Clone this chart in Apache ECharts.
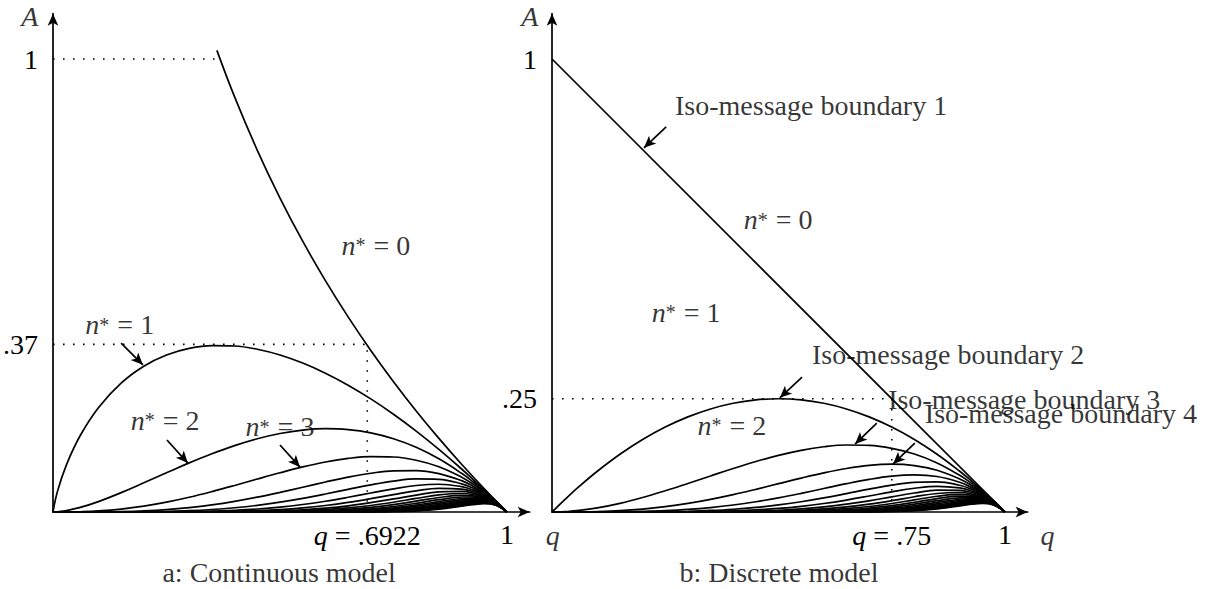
<!DOCTYPE html>
<html><head><meta charset="utf-8">
<script src="https://cdn.jsdelivr.net/npm/echarts@6/dist/echarts.min.js"></script>
<style>html,body{margin:0;padding:0;background:#fff}#c{width:1218px;height:589px}</style>
</head><body><div id="c"></div>
<script>
// shared q sample positions
const Q = [0, .01, .03, .06, .1, .15, .2, .25, .3, .35, .4, .45, .5, .55, .6, .65, .7, .75, .8, .85, .9, .925, .95, .975, 1];

// (a) Continuous model: boundary n*=0
const C0_Q = [.361, .4, .45, .5, .55, .6, .65, .7, .75, .8, .85, .9, .95, 1];
const C0_A = [1.019, .9163, .7985, .6931, .5978, .5108, .4308, .3567, .2877, .2231, .1625, .1054, .0513, 0];
// curves n = 1..20
const C1 = [0, .0461, .1052, .1688, .2303, .2846, .3219, .3466, .3612, .3674, .3665, .3593, .3466, .3288, .3065, .2800, .2497, .2158, .1785, .1381, .0949, .0721, .0487, .0247, 0];
const C2 = [0, .0005, .0032, .0101, .0230, .0427, .0644, .0866, .1084, .1286, .1466, .1617, .1733, .1808, .1839, .1820, .1748, .1618, .1428, .1174, .0854, .0667, .0463, .0241, 0];
const C3 = [0, 0, .0001, .0006, .0023, .0064, .0129, .0217, .0325, .0450, .0586, .0728, .0866, .0995, .1103, .1183, .1223, .1214, .1142, .0998, .0768, .0617, .0440, .0235, 0];
const C4 = [0, 0, 0, 0, .0002, .0010, .0026, .0054, .0098, .0158, .0235, .0327, .0433, .0547, .0662, .0769, .0856, .0910, .0914, .0848, .0692, .0571, .0418, .0229, 0];
const C5 = [0, 0, 0, 0, 0, .0001, .0005, .0014, .0029, .0055, .0094, .0147, .0217, .0301, .0397, .0500, .0600, .0683, .0731, .0721, .0622, .0528, .0397, .0223, 0];
const C6 = [0, 0, 0, 0, 0, 0, .0001, .0003, .0009, .0019, .0038, .0066, .0108, .0166, .0238, .0325, .0420, .0512, .0585, .0613, .0560, .0488, .0377, .0218, 0];
const C7 = [0, 0, 0, 0, 0, 0, 0, .0001, .0003, .0007, .0015, .0030, .0054, .0091, .0143, .0211, .0294, .0384, .0468, .0521, .0504, .0452, .0358, .0212, 0];
const C8 = [0, 0, 0, 0, 0, 0, 0, 0, .0001, .0002, .0006, .0013, .0027, .0050, .0086, .0137, .0206, .0288, .0374, .0443, .0454, .0418, .0340, .0207, 0];
const C9 = [0, 0, 0, 0, 0, 0, 0, 0, 0, .0001, .0002, .0006, .0014, .0028, .0052, .0089, .0144, .0216, .0300, .0376, .0408, .0387, .0323, .0202, 0];
const C10 = [0, 0, 0, 0, 0, 0, 0, 0, 0, 0, .0001, .0003, .0007, .0015, .0031, .0058, .0101, .0162, .0240, .0320, .0368, .0358, .0307, .0197, 0];
const C11 = [0, 0, 0, 0, 0, 0, 0, 0, 0, 0, 0, .0001, .0003, .0008, .0019, .0038, .0071, .0122, .0192, .0272, .0331, .0331, .0292, .0192, 0];
const C12 = [0, 0, 0, 0, 0, 0, 0, 0, 0, 0, 0, 0, .0002, .0005, .0011, .0025, .0049, .0091, .0153, .0231, .0298, .0306, .0277, .0187, 0];
const C13 = [0, 0, 0, 0, 0, 0, 0, 0, 0, 0, 0, 0, .0001, .0003, .0007, .0016, .0035, .0068, .0123, .0197, .0268, .0283, .0263, .0182, 0];
const C14 = [0, 0, 0, 0, 0, 0, 0, 0, 0, 0, 0, 0, 0, .0001, .0004, .0010, .0024, .0051, .0098, .0167, .0241, .0262, .0250, .0178, 0];
const C15 = [0, 0, 0, 0, 0, 0, 0, 0, 0, 0, 0, 0, 0, .0001, .0002, .0007, .0017, .0038, .0079, .0142, .0217, .0242, .0238, .0173, 0];
const C16 = [0, 0, 0, 0, 0, 0, 0, 0, 0, 0, 0, 0, 0, 0, .0001, .0004, .0012, .0029, .0063, .0121, .0195, .0224, .0226, .0169, 0];
const C17 = [0, 0, 0, 0, 0, 0, 0, 0, 0, 0, 0, 0, 0, 0, 0, .0003, .0008, .0022, .0050, .0103, .0176, .0207, .0214, .0165, 0];
const C18 = [0, 0, 0, 0, 0, 0, 0, 0, 0, 0, 0, 0, 0, 0, 0, .0002, .0006, .0016, .0040, .0087, .0158, .0192, .0204, .0161, 0];
const C19 = [0, 0, 0, 0, 0, 0, 0, 0, 0, 0, 0, 0, 0, 0, 0, .0001, .0004, .0012, .0032, .0074, .0142, .0177, .0194, .0157, 0];
const C20 = [0, 0, 0, 0, 0, 0, 0, 0, 0, 0, 0, 0, 0, 0, 0, 0, .0003, .0009, .0026, .0063, .0128, .0164, .0184, .0153, 0];

// (b) Discrete model: iso-message boundary 1 (straight) and curves 2..20
const D1_Q = [0, 1];
const D1_A = [1, 0];
const D2 = [0, .0099, .0291, .0564, .09, .1275, .16, .1875, .21, .2275, .24, .2475, .25, .2475, .24, .2275, .21, .1875, .16, .1275, .09, .0694, .0475, .0244, 0];
const D3 = [0, .0001, .0009, .0034, .009, .0191, .032, .0469, .063, .0796, .096, .1114, .125, .1361, .144, .1479, .147, .1406, .128, .1084, .081, .0642, .0451, .0238, 0];
const D4 = [0, 0, 0, .0002, .0009, .0029, .0064, .0117, .0189, .0279, .0384, .0501, .0625, .0749, .0864, .0961, .1029, .1055, .1024, .0921, .0729, .0594, .0429, .0232, 0];
const D5 = [0, 0, 0, 0, .0001, .0004, .0013, .0029, .0057, .0098, .0154, .0226, .0313, .0412, .0518, .0625, .0720, .0791, .0819, .0783, .0656, .0549, .0407, .0226, 0];
const D6 = [0, 0, 0, 0, 0, .0001, .0003, .0007, .0017, .0034, .0061, .0102, .0156, .0227, .0311, .0406, .0504, .0593, .0655, .0666, .0590, .0508, .0387, .0220, 0];
const D7 = [0, 0, 0, 0, 0, 0, .0001, .0002, .0005, .0012, .0025, .0046, .0078, .0125, .0187, .0264, .0353, .0445, .0524, .0566, .0531, .0470, .0368, .0215, 0];
const D8 = [0, 0, 0, 0, 0, 0, 0, 0, .0002, .0004, .0010, .0021, .0039, .0069, .0112, .0172, .0247, .0334, .0419, .0481, .0478, .0435, .0349, .0209, 0];
const D9 = [0, 0, 0, 0, 0, 0, 0, 0, 0, .0001, .0004, .0009, .0020, .0038, .0067, .0112, .0173, .0250, .0336, .0409, .0430, .0402, .0332, .0204, 0];
const D10 = [0, 0, 0, 0, 0, 0, 0, 0, 0, 0, .0002, .0004, .0010, .0021, .0040, .0073, .0121, .0188, .0268, .0347, .0387, .0372, .0315, .0199, 0];
const D11 = [0, 0, 0, 0, 0, 0, 0, 0, 0, 0, .0001, .0002, .0005, .0011, .0024, .0047, .0085, .0141, .0215, .0295, .0349, .0344, .0299, .0194, 0];
const D12 = [0, 0, 0, 0, 0, 0, 0, 0, 0, 0, 0, .0001, .0002, .0006, .0015, .0031, .0059, .0106, .0172, .0251, .0314, .0318, .0284, .0189, 0];
const D13 = [0, 0, 0, 0, 0, 0, 0, 0, 0, 0, 0, 0, .0001, .0003, .0009, .0020, .0042, .0079, .0137, .0213, .0282, .0294, .0270, .0184, 0];
const D14 = [0, 0, 0, 0, 0, 0, 0, 0, 0, 0, 0, 0, 0, .0002, .0005, .0013, .0029, .0059, .0110, .0181, .0254, .0272, .0257, .0180, 0];
const D15 = [0, 0, 0, 0, 0, 0, 0, 0, 0, 0, 0, 0, 0, .0001, .0003, .0008, .0020, .0045, .0088, .0154, .0229, .0252, .0244, .0175, 0];
const D16 = [0, 0, 0, 0, 0, 0, 0, 0, 0, 0, 0, 0, 0, 0, .0002, .0006, .0014, .0033, .0070, .0131, .0206, .0233, .0232, .0171, 0];
const D17 = [0, 0, 0, 0, 0, 0, 0, 0, 0, 0, 0, 0, 0, 0, .0001, .0004, .0010, .0025, .0056, .0111, .0185, .0215, .0220, .0167, 0];
const D18 = [0, 0, 0, 0, 0, 0, 0, 0, 0, 0, 0, 0, 0, 0, 0, .0002, .0007, .0019, .0045, .0095, .0167, .0199, .0209, .0163, 0];
const D19 = [0, 0, 0, 0, 0, 0, 0, 0, 0, 0, 0, 0, 0, 0, 0, .0001, .0005, .0014, .0036, .0080, .0150, .0184, .0199, .0158, 0];
const D20 = [0, 0, 0, 0, 0, 0, 0, 0, 0, 0, 0, 0, 0, 0, 0, 0, .0003, .0011, .0029, .0068, .0135, .0171, .0189, .0155, 0];

// tick labels
const C_XTICKS = [0.6922, 1];
const C_XTICK_TEXT = ['{i|q} = .6922', '1'];
const C_YTICKS = [0.37, 1];
const C_YTICK_TEXT = ['.37', '1'];
const D_XTICKS = [0.75, 1];
const D_XTICK_TEXT = ['{i|q} = .75', '1'];
const D_YTICKS = [0.25, 1];
const D_YTICK_TEXT = ['.25', '1'];

// dotted guide lines (data coords)
const C_GUIDES = [[[0, 1], [0.361, 1]], [[0, 0.37], [0.6922, 0.37], [0.6922, 0]]];
const D_GUIDES = [[[0, 0.25], [0.75, 0.25], [0.75, 0]]];

// annotation arrows (from, to) in data coords
const C_ARROWS = [[[.150, .373], [.198, .325]], [[.251, .159], [.297, .108]], [[.500, .148], [.544, .099]]];
const D_ARROWS = [[[.252, .850], [.203, .804]], [[.552, .298], [.503, .252]], [[.717, .196], [.669, .150]], [[.801, .152], [.753, .106]]];

// annotation texts: [q, A, text, align]
const C_NOTES = [
  [.711, .589, '{i|n}{s|*}{m| = 0}', 'center'],
  [.147, .413, '{i|n}{s|*}{m| = 1}', 'center'],
  [.247, .203, '{i|n}{s|*}{m| = 2}', 'center'],
  [.500, .188, '{i|n}{s|*}{m| = 3}', 'center'],
  [-.051, 1.093, '{i|A}', 'center'],
  [1.101, -.052, '{i|q}', 'center'],
  [.498, -.1325, '{m|a: Continuous model}', 'center']
];
const D_NOTES = [
  [.499, .645, '{i|n}{s|*}{m| = 0}', 'center'],
  [.296, .441, '{i|n}{s|*}{m| = 1}', 'center'],
  [.397, .192, '{i|n}{s|*}{m| = 2}', 'center'],
  [.2715, .898, '{m|Iso-message boundary 1}', 'left'],
  [.574, .347, '{m|Iso-message boundary 2}', 'left'],
  [.742, .249, '{m|Iso-message boundary 3}', 'left'],
  [.823, .217, '{m|Iso-message boundary 4}', 'left'],
  [-.049, 1.093, '{i|A}', 'center'],
  [1.094, -.052, '{i|q}', 'center'],
  [.501, -.1325, '{m|b: Discrete model}', 'center']
];

const FONT = 'Liberation Serif';
const FS = 28;
const RICH = {
  i: {fontFamily: FONT, fontSize: FS, fontStyle: 'italic', color: '#000', lineHeight: 30},
  s: {fontFamily: FONT, fontSize: 20, color: '#000', lineHeight: 30, padding: [0, 1, 0, 0]},
  m: {fontFamily: FONT, fontSize: FS, color: '#000', lineHeight: 30}
};
const LW = 1.7;

function curve(xs, ys, gi) {
  return {type: 'line', xAxisIndex: gi, yAxisIndex: gi, data: xs.map((q, i) => [q, ys[i]]),
    smooth: 0.4, symbol: 'none', silent: true,
    lineStyle: {color: '#000', width: LW}, z: 3};
}
function guide(pts, gi, arrows) {
  const s = {type: 'line', xAxisIndex: gi, yAxisIndex: gi, data: pts, symbol: 'none', silent: true,
    lineStyle: {color: '#000', width: 1.6, type: [1.6, 8.4]}, z: 2};
  if (arrows) {
    s.markLine = {silent: true, symbol: ['none', 'arrow'], symbolSize: [8, 12], animation: false,
      lineStyle: {color: '#000', width: LW, type: 'solid'}, label: {show: false},
      emphasis: {disabled: true},
      data: arrows.map(a => [{coord: a[0]}, {coord: a[1]}])};
  }
  return s;
}
function notes(list, gi) {
  return {type: 'scatter', xAxisIndex: gi, yAxisIndex: gi, symbolSize: 1, clip: false, silent: true,
    itemStyle: {color: 'rgba(0,0,0,0)'}, z: 5,
    data: list.map(n => ({value: [n[0], n[1]], label: {show: true, position: 'inside', formatter: n[2], align: n[3], verticalAlign: 'middle', rich: RICH}}))};
}
function pick(ticks, texts) {
  return v => { let k = 0; ticks.forEach((t, i) => { if (Math.abs(t - v) < Math.abs(ticks[k] - v)) k = i; }); return texts[k]; };
}
function xAxis(gi, ticks, texts) {
  return {gridIndex: gi, type: 'value', min: 0, max: 1.05,
    axisLine: {show: true, onZero: false, lineStyle: {color: '#000', width: LW}, symbol: ['none', 'arrow'], symbolSize: [8, 12]},
    axisTick: {show: false}, splitLine: {show: false},
    axisLabel: {customValues: ticks, formatter: pick(ticks, texts), margin: 8, color: '#000',
      fontFamily: FONT, fontSize: FS, rich: RICH}};
}
function yAxis(gi, ticks, texts) {
  return {gridIndex: gi, type: 'value', min: 0, max: 1.1,
    axisLine: {show: true, onZero: false, lineStyle: {color: '#000', width: LW}, symbol: ['none', 'arrow'], symbolSize: [8, 12]},
    axisTick: {show: false}, splitLine: {show: false},
    axisLabel: {customValues: ticks, formatter: pick(ticks, texts), margin: 15, color: '#000',
      fontFamily: FONT, fontSize: FS}};
}

const CONT = [C1, C2, C3, C4, C5, C6, C7, C8, C9, C10, C11, C12, C13, C14, C15, C16, C17, C18, C19, C20];
const DISC = [D2, D3, D4, D5, D6, D7, D8, D9, D10, D11, D12, D13, D14, D15, D16, D17, D18, D19, D20];

const series = [];
series.push(curve(C0_Q, C0_A, 0));
CONT.forEach(c => series.push(curve(Q, c, 0)));
series.push(guide(C_GUIDES[0], 0, C_ARROWS));
series.push(guide(C_GUIDES[1], 0));
series.push(notes(C_NOTES, 0));
series.push(curve(D1_Q, D1_A, 1));
DISC.forEach(c => series.push(curve(Q, c, 1)));
series.push(guide(D_GUIDES[0], 1, D_ARROWS));
series.push(notes(D_NOTES, 1));

const chart = echarts.init(document.getElementById('c'), null, {renderer: 'svg'});
chart.setOption({
  animation: false,
  backgroundColor: '#fff',
  grid: [
    {left: 53, top: 13.7, width: 476.7, height: 498.3},
    {left: 552, top: 13.7, width: 475.65, height: 498.3}
  ],
  xAxis: [xAxis(0, C_XTICKS, C_XTICK_TEXT), xAxis(1, D_XTICKS, D_XTICK_TEXT)],
  yAxis: [yAxis(0, C_YTICKS, C_YTICK_TEXT), yAxis(1, D_YTICKS, D_YTICK_TEXT)],
  series: series
});
</script></body></html>
